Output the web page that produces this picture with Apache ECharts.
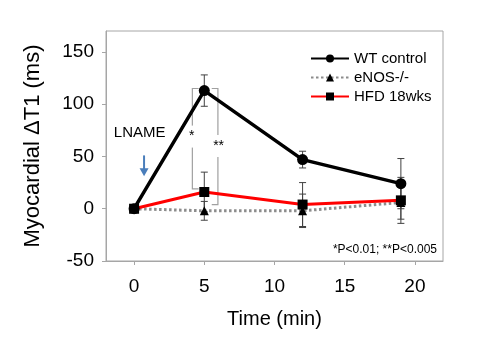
<!DOCTYPE html>
<html>
<head>
<meta charset="utf-8">
<script src="https://cdn.jsdelivr.net/npm/echarts@6/dist/echarts.min.js"></script>
<style>html,body{margin:0;padding:0;background:#fff}#c{width:480px;height:360px}</style>
</head>
<body>
<div id="c"></div>
<script>
// ---- data ----
const times = [0, 5, 12, 19];
const xTicks = [0, 5, 10, 15, 20];
const yTicks = [-50, 0, 50, 100, 150];
const wtMean = [0, 113, 47, 24];
const wtErr = [0, 15, 8, 24];
const enosMean = [0, -2, -2, 6];
const enosErr = [0, 9, 16, 16];
const hfdMean = [0, 16, 4, 8];
const hfdErr = [0, 19, 21, 22];
const seriesNames = ['WT control', 'eNOS-/-', 'HFD 18wks'];
// annotation anchors (data space)
const bracketLeft = [[4.6, 115], [4.15, 115], [4.15, 19], [4.6, 19]];
const bracketRight = [[5.53, 115], [5.97, 115], [5.97, 4], [5.53, 4]];
const starLabels = [['*', 4.1, 69], ['**', 6.02, 60]];
const lnameLabel = ['LNAME', 0.4, 73];
const lnameArrow = [[0.71, 51], [0.71, 31]];
const footnote = '*P<0.01; **P<0.005';

const FONT = '"Liberation Sans", Arial, sans-serif';
const pts = (m) => times.map((t, i) => [t, m[i]]);
const errRows = (m, e) => times.map((t, i) => [t, m[i], e[i]]);

function errRender(params, api) {
  const x = api.value(0), y = api.value(1), e = api.value(2);
  if (!e) return null;
  const top = api.coord([x, y + e]);
  const bot = api.coord([x, y - e]);
  const w = 3.5;
  const st = {stroke: '#404040', lineWidth: 1};
  return {type: 'group', children: [
    {type: 'line', shape: {x1: top[0], y1: top[1], x2: bot[0], y2: bot[1]}, style: st},
    {type: 'line', shape: {x1: top[0] - w, y1: top[1], x2: top[0] + w, y2: top[1]}, style: st},
    {type: 'line', shape: {x1: bot[0] - w, y1: bot[1], x2: bot[0] + w, y2: bot[1]}, style: st}
  ]};
}

function annRender(params, api) {
  const bst = {stroke: '#a0a0a0', lineWidth: 1.2, fill: null};
  const children = [];
  [bracketLeft, bracketRight].forEach(b => {
    children.push({type: 'polyline', shape: {points: b.map(p => api.coord(p))}, style: bst});
  });
  starLabels.forEach(s => {
    const p = api.coord([s[1], s[2]]);
    children.push({type: 'text', style: {text: s[0], x: p[0], y: p[1], align: 'center', verticalAlign: 'middle',
      fill: '#000', font: '14px ' + FONT, backgroundColor: '#fff', padding: [4, 1]}});
  });
  const lp = api.coord([lnameLabel[1], lnameLabel[2]]);
  children.push({type: 'text', style: {text: lnameLabel[0], x: lp[0], y: lp[1], align: 'center', verticalAlign: 'middle',
    fill: '#000', font: '15px ' + FONT}});
  const a0 = api.coord(lnameArrow[0]), a1 = api.coord(lnameArrow[1]);
  children.push({type: 'line', shape: {x1: a0[0], y1: a0[1], x2: a1[0], y2: a1[1] - 6}, style: {stroke: '#4a7ebb', lineWidth: 2}});
  children.push({type: 'polygon', shape: {points: [[a1[0] - 4.5, a1[1] - 8], [a1[0] + 4.5, a1[1] - 8], [a1[0], a1[1]]]}, style: {fill: '#4a7ebb'}});
  return {type: 'group', children: children};
}

const chart = echarts.init(document.getElementById('c'));
chart.setOption({
  animation: false,
  textStyle: {fontFamily: FONT},
  grid: {left: 106, right: 37, top: 31, bottom: 99, show: true, borderColor: '#a6a6a6', borderWidth: 1},
  legend: {
    orient: 'vertical', left: 305, top: 46, itemWidth: 38, itemHeight: 10, itemGap: 4,
    data: seriesNames,
    textStyle: {fontSize: 15, color: '#000', fontFamily: FONT}
  },
  graphic: [{type: 'text', right: 43, top: 244, style: {text: footnote, font: '12px ' + FONT, fill: '#000'}}],
  xAxis: {
    type: 'value', min: -2, max: 22,
    name: 'Time (min)', nameLocation: 'middle', nameGap: 48,
    nameTextStyle: {fontSize: 20, color: '#000', fontFamily: FONT},
    axisLine: {onZero: false, lineStyle: {color: '#a6a6a6'}},
    axisTick: {customValues: xTicks, length: 4, lineStyle: {color: '#a6a6a6'}},
    axisLabel: {customValues: xTicks, fontSize: 19, color: '#000', margin: 16, fontFamily: FONT},
    splitLine: {show: false}
  },
  yAxis: {
    type: 'value', min: -50, max: 170,
    name: 'Myocardial ΔT1 (ms)', nameLocation: 'middle', nameRotate: 90, nameGap: 62,
    nameTextStyle: {fontSize: 22, color: '#000', fontFamily: FONT},
    axisLine: {show: true, onZero: false, lineStyle: {color: '#a6a6a6'}},
    axisTick: {show: true, customValues: yTicks, length: 4, lineStyle: {color: '#a6a6a6'}},
    axisLabel: {customValues: yTicks, fontSize: 19, color: '#000', margin: 12, fontFamily: FONT},
    splitLine: {show: false}
  },
  series: [
    {type: 'custom', name: 'ann', renderItem: annRender, data: [[0, 0]], z: 1, silent: true},
    {type: 'custom', name: 'errE', renderItem: errRender, data: errRows(enosMean, enosErr), z: 2},
    {type: 'custom', name: 'errH', renderItem: errRender, data: errRows(hfdMean, hfdErr), z: 2},
    {type: 'custom', name: 'errW', renderItem: errRender, data: errRows(wtMean, wtErr), z: 2},
    {type: 'line', name: seriesNames[1], data: pts(enosMean), z: 3,
     symbol: 'triangle', symbolSize: 9, itemStyle: {color: '#000'},
     lineStyle: {color: '#8c8c8c', width: 3, type: [2.5, 2.5]}},
    {type: 'line', name: seriesNames[2], data: pts(hfdMean), z: 4,
     symbol: 'rect', symbolSize: 10, itemStyle: {color: '#000'},
     lineStyle: {color: '#ff0000', width: 3}},
    {type: 'line', name: seriesNames[0], data: pts(wtMean), z: 5,
     symbol: 'circle', symbolSize: 11, itemStyle: {color: '#000'},
     lineStyle: {color: '#000', width: 3.5}}
  ]
});
</script>
</body>
</html>
